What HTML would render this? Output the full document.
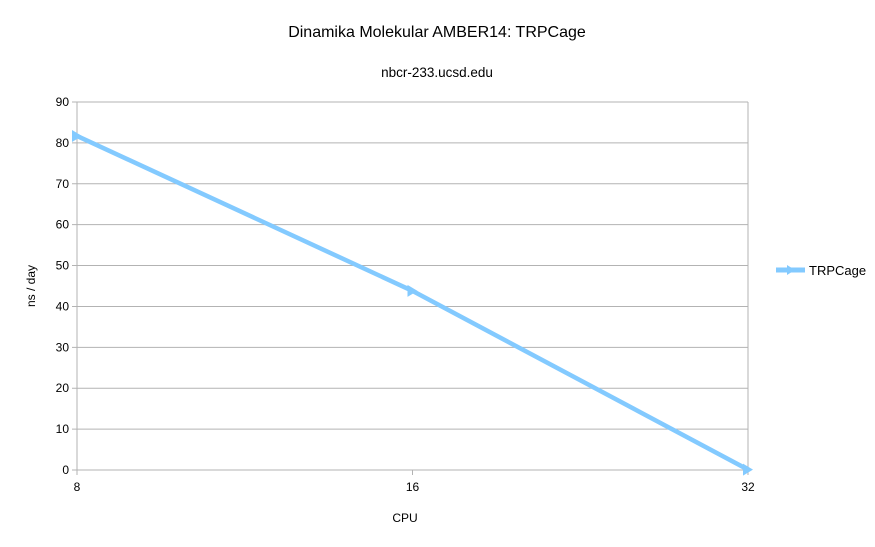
<!DOCTYPE html>
<html><head><meta charset="utf-8"><style>
body{margin:0;background:#fff;font-family:"Liberation Sans",sans-serif}
svg text{font-family:"Liberation Sans",sans-serif;fill:#000}
</style></head><body>
<svg width="875" height="542">
<text x="437" y="37" font-size="16" text-anchor="middle">Dinamika Molekular AMBER14: TRPCage</text>
<text x="437" y="77" font-size="13.5" text-anchor="middle">nbcr-233.ucsd.edu</text>
<text x="35" y="286" font-size="12" text-anchor="middle" transform="rotate(-90 35 286)">ns / day</text>
<text x="405" y="522" font-size="12" text-anchor="middle">CPU</text>
<g id="grid"></g><g id="series"></g>
<g>
<line x1="776" y1="270" x2="805" y2="270" stroke="#83CAFF" stroke-width="5"/>
<polygon points="787,265 795,270 787,275" fill="#83CAFF"/>
<text x="809" y="275" font-size="13">TRPCage</text>
</g>
</svg>
<script>
const categories=["8","16","32"];
const values=[81.7,43.8,0.1];
const yTicks=[0,10,20,30,40,50,60,70,80,90];
const X0=77,X1=748,Y0=470,Y1=102;
const xs=i=>X0+i*(X1-X0)/(categories.length-1);
const ys=v=>Y0-(v/90)*(Y0-Y1);
const ns="http://www.w3.org/2000/svg";
const g=document.getElementById('grid'),s=document.getElementById('series');
function mk(t,a,p){const e=document.createElementNS(ns,t);for(const k in a)e.setAttribute(k,a[k]);p.appendChild(e);return e;}
yTicks.forEach(v=>{
 const l=mk('line',{x1:X0-5,x2:X1,y1:ys(v),y2:ys(v),stroke:'#b3b3b3','stroke-width':1},g);
 
 
 const t=mk('text',{x:X0-8,y:ys(v)+4,'font-size':12,'text-anchor':'end'},g);t.textContent=v;
 
 
});
const ax=mk('line',{x1:X0,x2:X0,y1:Y1,y2:Y0+5,stroke:'#b3b3b3'},g);


const rb=mk('line',{x1:X1,x2:X1,y1:Y1,y2:Y0,stroke:'#b3b3b3'},g);


categories.forEach((c,i)=>{
 const l=mk('line',{x1:xs(i),x2:xs(i),y1:Y0,y2:Y0+5,stroke:'#b3b3b3'},g);
 
 
 const t=mk('text',{x:xs(i),y:Y0+21,'font-size':12,'text-anchor':'middle'},g);t.textContent=c;
 
 
});
const pl=mk('polyline',{points:values.map((v,i)=>xs(i)+','+ys(v)).join(' '),fill:'none',stroke:'#83CAFF','stroke-width':4.5},s);


values.forEach((v,i)=>{
 const x=xs(i),y=ys(v);
 const m=mk('polygon',{points:`${x-5},${y-6} ${x+5},${y} ${x-5},${y+6}`,fill:'#83CAFF'},s);
 
 
});
</script>
</body></html>
